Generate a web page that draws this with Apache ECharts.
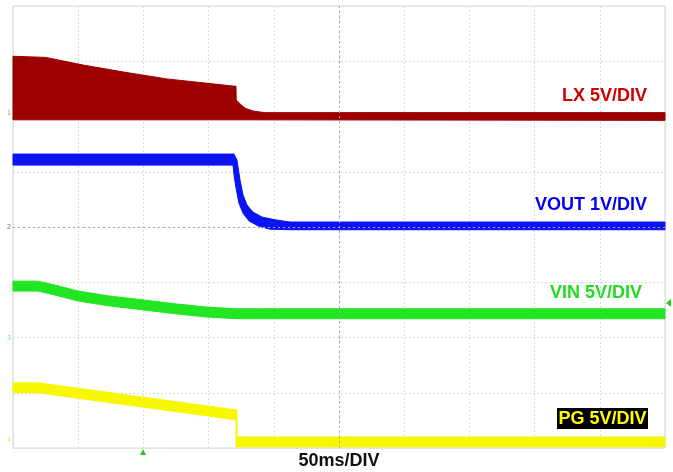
<!DOCTYPE html>
<html>
<head>
<meta charset="utf-8">
<script src="https://cdn.jsdelivr.net/npm/echarts@6/dist/echarts.min.js"></script>
<style>
html,body{margin:0;padding:0;background:#fff;}
#c{width:673px;height:472px;}
</style>
</head>
<body>
<div id="c"></div>
<script>
// Time axis in ms (50 ms/div, 10 divisions), vertical axis in scope divisions (8)
const xTicks = [0, 50, 100, 150, 200, 250, 300, 350, 400, 450, 500];
const yTicks = [0, 1, 2, 3, 4, 5, 6, 7, 8];

const traceNames = ['LX 5V/DIV', 'VOUT 1V/DIV', 'VIN 5V/DIV', 'PG 5V/DIV'];

// Each trace: upper edge (left→right) and lower edge (left→right), [ms, div]
const lxUpper = [[0,7.09],[25,7.07],[54,6.93],[86,6.80],[118,6.68],[169,6.55],[171,6.55],
                 [171.2,6.30],[174,6.23],[178,6.15],[184,6.10],[193,6.07],[500,6.07]];
const lxLower = [[0,5.94],[171,5.94],[500,5.93]];

const voutUpper = [[0,5.32],[169.5,5.32],[171.8,5.21],[174.1,4.85],[176.4,4.58],[179.4,4.40],
                   [184.0,4.27],[191.0,4.18],[200.9,4.13],[212.4,4.09],[500,4.09]];
const voutLower = [[0,5.12],[168.7,5.12],[169.5,4.94],[171.0,4.71],[173.3,4.43],[176.4,4.25],
                   [181.0,4.11],[187.9,4.02],[197.1,3.96],[212.4,3.95],[500,3.95]];

const vinUpper = [[0,3.02],[19.2,3.02],[32,2.95],[50,2.84],[74,2.75],[100,2.68],[124,2.61],
                  [149,2.55],[171,2.52],[190,2.52],[500,2.52]];
const vinLower = [[0,2.84],[19.2,2.84],[32,2.77],[50,2.66],[74,2.57],[100,2.50],[124,2.43],
                  [149,2.37],[171,2.34],[190,2.34],[500,2.34]];

const pgUpper = [[0,1.18],[19.2,1.18],[171.0,0.69],[171.8,0.69],[171.8,0.20],[500,0.20]];
const pgLower = [[0,1.00],[19.2,1.00],[171.0,0.51],[171.0,0.02],[500,0.02]];

const traceColors = ['#9c0000', '#0a14f5', '#22e622', '#f7f700'];
const labelColors = ['#cc0000', '#0000ee', '#22dd22', '#ffff00'];

function band(upper, lower) {
  return upper.concat(lower.slice().reverse());
}
const bands = [band(lxUpper, lxLower), band(voutUpper, voutLower),
               band(vinUpper, vinLower), band(pgUpper, pgLower)];

function bandSeries(pts, color, name) {
  return {
    type: 'custom',
    name: name,
    coordinateSystem: 'cartesian2d',
    data: pts,
    encode: { x: 0, y: 1 },
    silent: true,
    z: 3,
    renderItem: function (params, api) {
      if (params.dataIndex !== 0) return null;
      return {
        type: 'polygon',
        shape: { points: pts.map(p => api.coord(p)) },
        style: { fill: color, stroke: color, lineWidth: 1 }
      };
    }
  };
}

const chart = echarts.init(document.getElementById('c'), null, { renderer: 'canvas' });

const series = bands.map((b, i) => bandSeries(b, traceColors[i], traceNames[i]));
// center cross lines (dashed, darker)
series.push({
  type: 'line', data: [], silent: true,
  markLine: {
    silent: true, symbol: 'none', label: { show: false },
    lineStyle: { color: '#a8a8a8', type: [2, 3], width: 1 },
    data: [{ xAxis: xTicks[5] }, { yAxis: yTicks[4] }]
  }
});

chart.setOption({
  animation: false,
  backgroundColor: '#ffffff',
  grid: { left: 13, right: 8, top: 6, bottom: 24, show: true, borderColor: '#d4d4d4', borderWidth: 1 },
  xAxis: {
    type: 'value', min: xTicks[0], max: xTicks[xTicks.length - 1], interval: 50,
    axisLine: { show: false }, axisTick: { show: false }, axisLabel: { show: false },
    splitLine: { show: true, lineStyle: { color: '#dcdcdc', type: [2, 2], width: 1 } }
  },
  yAxis: {
    type: 'value', min: yTicks[0], max: yTicks[yTicks.length - 1], interval: 1,
    axisLine: { show: false }, axisTick: { show: false }, axisLabel: { show: false },
    splitLine: { show: true, lineStyle: { color: '#dcdcdc', type: [2, 2], width: 1 } }
  },
  series: series,
  graphic: [
    { type: 'text', x: 647, y: 96, style: { text: traceNames[0], fill: labelColors[0], font: 'bold 18px "Liberation Sans", Arial, sans-serif', textAlign: 'right', textVerticalAlign: 'middle' } },
    { type: 'text', x: 647, y: 205, style: { text: traceNames[1], fill: labelColors[1], font: 'bold 18px "Liberation Sans", Arial, sans-serif', textAlign: 'right', textVerticalAlign: 'middle' } },
    { type: 'text', x: 642, y: 293, style: { text: traceNames[2], fill: labelColors[2], font: 'bold 18px "Liberation Sans", Arial, sans-serif', textAlign: 'right', textVerticalAlign: 'middle' } },
    { type: 'rect', shape: { x: 557, y: 408, width: 91, height: 21 }, style: { fill: '#000' }, z: 10 },
    { type: 'text', x: 602.5, y: 419, z: 11, style: { text: traceNames[3], fill: labelColors[3], font: 'bold 18px "Liberation Sans", Arial, sans-serif', textAlign: 'center', textVerticalAlign: 'middle' } },
    { type: 'text', x: 339, y: 461, style: { text: '50ms/DIV', fill: '#111', font: 'bold 18px "Liberation Sans", Arial, sans-serif', textAlign: 'center', textVerticalAlign: 'middle' } },
    { type: 'polygon', shape: { points: [[140, 455], [146, 455], [143, 449]] }, style: { fill: '#22cc22' } },
    { type: 'polygon', shape: { points: [[666, 303], [671, 299], [671, 307]] }, style: { fill: '#22cc22' } },
    { type: 'text', x: 9, y: 113, style: { text: '1', fill: '#c08080', font: '7px sans-serif', textAlign: 'center', textVerticalAlign: 'middle' } },
    { type: 'text', x: 9, y: 227, style: { text: '2', fill: '#6060e0', font: '7px sans-serif', textAlign: 'center', textVerticalAlign: 'middle' } },
    { type: 'text', x: 9, y: 338, style: { text: '3', fill: '#80e080', font: '7px sans-serif', textAlign: 'center', textVerticalAlign: 'middle' } },
    { type: 'text', x: 9, y: 440, style: { text: '4', fill: '#e0e070', font: '7px sans-serif', textAlign: 'center', textVerticalAlign: 'middle' } }
  ]
});
</script>
</body>
</html>
